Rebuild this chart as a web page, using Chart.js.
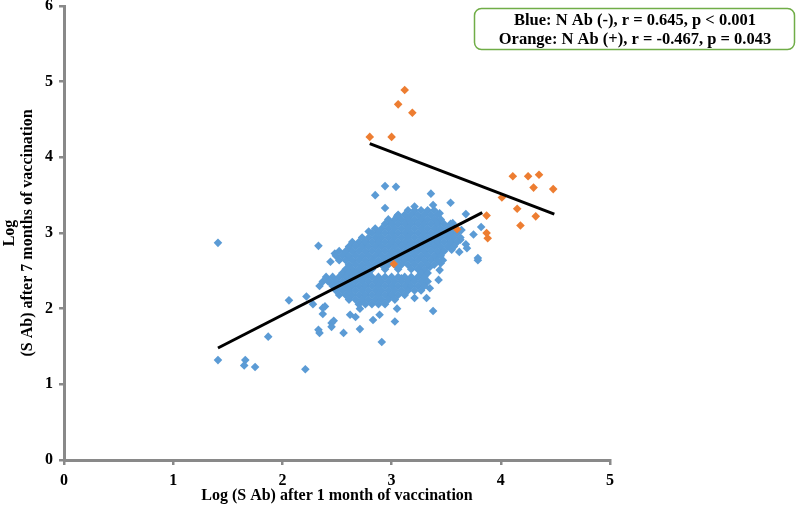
<!DOCTYPE html>
<html>
<head>
<meta charset="utf-8">
<script src="https://cdn.jsdelivr.net/npm/chart.js@4.4.1/dist/chart.umd.min.js"></script>
<style>
  html, body { margin: 0; padding: 0; background: #fff; }
</style>
</head>
<body>
<canvas id="canvas" width="797" height="513"></canvas>
<script>
// N Ab (-) points (log S Ab at 1 month, log S Ab at 7 months)
var bluePoints = [
  // scattered points
  [1.41,2.87],[1.41,1.32],[1.66,1.32],[1.65,1.25],[1.75,1.23],[1.87,1.63],[2.21,1.20],
  [2.06,2.11],[2.22,2.16],[2.28,2.06],[2.33,1.72],[2.34,1.68],[2.37,1.93],[2.37,2.01],
  [2.39,2.03],[2.45,1.81],[2.45,1.76],[2.47,1.84],[2.56,1.68],[2.62,1.92],[2.67,1.89],
  [2.71,1.73],[2.71,2.00],[2.83,1.85],[2.89,1.92],[2.91,1.56],[2.97,2.16],[3.05,2.00],
  [3.03,1.83],[3.21,2.14],[3.32,2.14],[3.38,1.97],[3.35,2.27],[3.32,2.36],[3.43,2.38],
  [3.44,2.51],[3.35,2.55],[3.20,2.38],[3.15,2.29],[3.09,2.40],[2.34,2.30],[2.42,2.36],
  [2.33,2.83],[2.48,2.73],[2.44,2.62],[2.59,2.71],[2.79,3.02],[2.85,3.50],[2.94,3.62],
  [3.04,3.61],[2.94,3.33],[3.05,3.22],[3.36,3.52],[3.54,3.40],[3.21,3.35],[3.38,3.37],
  [3.44,3.26],[3.68,3.25],[3.82,3.08],[3.75,2.98],[3.68,2.85],[3.79,2.67],[3.63,2.91],
  [3.62,2.75],[3.55,2.78],[3.46,2.75],[3.45,2.60],[3.79,2.64],[3.56,3.13],[3.64,3.04],
  [3.69,2.80],[3.47,2.64],[3.41,2.70],
  // upper cluster
  [3.15,3.30],[3.21,3.30],[3.27,3.30],[3.33,3.30],[3.39,3.30],
  [3.06,3.24],[3.12,3.24],[3.18,3.24],[3.24,3.24],[3.30,3.24],[3.36,3.24],[3.42,3.24],
  [2.97,3.18],[3.03,3.18],[3.09,3.18],[3.15,3.18],[3.21,3.18],[3.27,3.18],[3.33,3.18],[3.39,3.18],[3.45,3.18],
  [2.94,3.12],[3.00,3.12],[3.06,3.12],[3.12,3.12],[3.18,3.12],[3.24,3.12],[3.30,3.12],[3.36,3.12],[3.42,3.12],[3.48,3.12],[3.54,3.12],
  [2.85,3.06],[2.91,3.06],[2.97,3.06],[3.03,3.06],[3.09,3.06],[3.15,3.06],[3.21,3.06],[3.27,3.06],[3.33,3.06],[3.39,3.06],[3.45,3.06],[3.51,3.06],[3.57,3.06],
  [2.82,3.00],[2.88,3.00],[2.94,3.00],[3.00,3.00],[3.06,3.00],[3.12,3.00],[3.18,3.00],[3.24,3.00],[3.30,3.00],[3.36,3.00],[3.42,3.00],[3.48,3.00],[3.54,3.00],[3.60,3.00],
  [2.73,2.94],[2.79,2.94],[2.85,2.94],[2.91,2.94],[2.97,2.94],[3.03,2.94],[3.09,2.94],[3.15,2.94],[3.21,2.94],[3.27,2.94],[3.33,2.94],[3.39,2.94],[3.45,2.94],[3.51,2.94],[3.57,2.94],[3.63,2.94],
  [2.64,2.88],[2.70,2.88],[2.76,2.88],[2.82,2.88],[2.88,2.88],[2.94,2.88],[3.00,2.88],[3.06,2.88],[3.12,2.88],[3.18,2.88],[3.24,2.88],[3.30,2.88],[3.36,2.88],[3.42,2.88],[3.48,2.88],[3.54,2.88],[3.60,2.88],
  [2.61,2.82],[2.67,2.82],[2.73,2.82],[2.79,2.82],[2.85,2.82],[2.91,2.82],[2.97,2.82],[3.03,2.82],[3.09,2.82],[3.15,2.82],[3.21,2.82],[3.27,2.82],[3.33,2.82],[3.39,2.82],[3.45,2.82],[3.51,2.82],[3.57,2.82],
  [2.52,2.76],[2.58,2.76],[2.64,2.76],[2.70,2.76],[2.76,2.76],[2.82,2.76],[2.88,2.76],[2.94,2.76],[3.00,2.76],[3.06,2.76],[3.12,2.76],[3.18,2.76],[3.24,2.76],[3.30,2.76],[3.36,2.76],[3.42,2.76],[3.48,2.76],
  [2.49,2.70],[2.55,2.70],[2.61,2.70],[2.67,2.70],[2.73,2.70],[2.79,2.70],[2.85,2.70],[2.91,2.70],[2.97,2.70],[3.03,2.70],[3.09,2.70],[3.15,2.70],[3.21,2.70],[3.27,2.70],[3.33,2.70],[3.39,2.70],[3.45,2.70],
  [2.52,2.64],[2.58,2.64],[2.64,2.64],[2.70,2.64],[2.76,2.64],[2.82,2.64],[2.88,2.64],[2.94,2.64],[3.00,2.64],[3.06,2.64],[3.12,2.64],[3.18,2.64],[3.24,2.64],[3.30,2.64],[3.36,2.64],[3.42,2.64],
  [2.61,2.58],[2.67,2.58],[2.73,2.58],[2.79,2.58],[2.85,2.58],[2.91,2.58],[2.97,2.58],[3.03,2.58],[3.09,2.58],[3.15,2.58],[3.21,2.58],[3.27,2.58],[3.33,2.58],[3.39,2.58],
  [2.58,2.52],[2.64,2.52],[2.70,2.52],[2.76,2.52],[2.82,2.52],[2.94,2.52],[3.06,2.52],[3.18,2.52],[3.24,2.52],[3.30,2.52],
  [2.55,2.47],[2.61,2.47],[2.67,2.47],[2.73,2.47],[2.79,2.47],[3.27,2.47],[3.33,2.47],
  // lower cluster
  [2.40,2.42],[2.46,2.42],[2.52,2.42],[2.58,2.42],[2.64,2.42],[2.70,2.42],[2.76,2.42],[2.82,2.42],[2.88,2.42],[2.94,2.42],[3.00,2.42],[3.06,2.42],[3.12,2.42],[3.18,2.42],[3.24,2.42],[3.30,2.42],
  [2.37,2.36],[2.43,2.36],[2.49,2.36],[2.55,2.36],[2.61,2.36],[2.67,2.36],[2.73,2.36],[2.79,2.36],[2.85,2.36],[2.91,2.36],[2.97,2.36],[3.03,2.36],[3.09,2.36],[3.15,2.36],[3.21,2.36],[3.27,2.36],[3.33,2.36],
  [2.46,2.30],[2.52,2.30],[2.58,2.30],[2.64,2.30],[2.70,2.30],[2.76,2.30],[2.82,2.30],[2.88,2.30],[2.94,2.30],[3.00,2.30],[3.06,2.30],[3.12,2.30],[3.18,2.30],[3.24,2.30],[3.30,2.30],
  [2.49,2.24],[2.55,2.24],[2.61,2.24],[2.67,2.24],[2.73,2.24],[2.79,2.24],[2.85,2.24],[2.91,2.24],[2.97,2.24],[3.03,2.24],[3.09,2.24],[3.15,2.24],[3.21,2.24],[3.27,2.24],
  [2.52,2.18],[2.58,2.18],[2.64,2.18],[2.70,2.18],[2.76,2.18],[2.82,2.18],[2.88,2.18],[2.94,2.18],[3.00,2.18],[3.06,2.18],[3.12,2.18],
  [2.61,2.12],[2.67,2.12],[2.73,2.12],[2.79,2.12],[2.85,2.12],[2.91,2.12],[2.97,2.12],[3.03,2.12],
  [2.70,2.06],[2.76,2.06],[2.82,2.06],[2.88,2.06],[2.94,2.06]
];

// N Ab (+) points
var orangePoints = [
  [2.80,4.27],[3.00,4.27],[3.06,4.70],[3.12,4.89],[3.19,4.59],[4.11,3.75],[4.25,3.75],
  [4.35,3.77],[4.30,3.60],[4.48,3.58],[4.01,3.47],[4.15,3.32],[4.32,3.22],[4.18,3.10],
  [3.87,3.23],[3.87,3.00],[3.88,2.93],[3.60,3.05],[3.02,2.59]
];

// fitted lines, start and end points
var blueFit = [[1.41,1.48],[3.83,3.27]];
var orangeFit = [[2.80,4.18],[4.49,3.25]];

var xTicks = [0, 1, 2, 3, 4, 5];
var yTicks = [0, 1, 2, 3, 4, 5, 6];

var noteLines = [
  'Blue: N Ab (-), r = 0.645, p < 0.001',
  'Orange: N Ab (+), r = -0.467, p = 0.043'
];

function toXY(list) {
  return list.map(function(p) { return { x: p[0], y: p[1] }; });
}

var serif = '"Liberation Serif", "Times New Roman", serif';
var axisGrey = '#898989';

// boxed note with the correlation results
var noteBox = {
  id: 'noteBox',
  afterDraw: function(chart) {
    var ctx = chart.ctx;
    ctx.save();
    ctx.beginPath();
    ctx.roundRect(474.5, 8.5, 320, 41, 7);
    ctx.fillStyle = '#fff';
    ctx.fill();
    ctx.strokeStyle = '#70AD47';
    ctx.lineWidth = 1.5;
    ctx.stroke();
    ctx.fillStyle = '#000';
    ctx.font = 'bold 16.5px ' + serif;
    ctx.textAlign = 'center';
    ctx.textBaseline = 'middle';
    noteLines.forEach(function(t, i) {
      ctx.fillText(t, 635, 21 + i * 19);
    });
    ctx.restore();
  }
};

var ctx = document.getElementById('canvas').getContext('2d');
var chart = new Chart(ctx, {
  type: 'scatter',
  data: {
    datasets: [{
      label: 'Blue fit',
      data: toXY(blueFit),
      showLine: true,
      borderColor: '#000',
      borderWidth: 3,
      pointRadius: 0,
      order: 0
    }, {
      label: 'Orange fit',
      data: toXY(orangeFit),
      showLine: true,
      borderColor: '#000',
      borderWidth: 3,
      pointRadius: 0,
      order: 0
    }, {
      label: 'N Ab (+)',
      data: toXY(orangePoints),
      backgroundColor: '#ED7D31',
      borderWidth: 0,
      pointStyle: 'rectRot',
      pointRadius: 4.3,
      order: 1
    }, {
      label: 'N Ab (-)',
      data: toXY(bluePoints),
      backgroundColor: '#5B9BD5',
      borderWidth: 0,
      pointStyle: 'rectRot',
      pointRadius: 4.3,
      order: 2
    }]
  },
  options: {
    responsive: false,
    animation: false,
    layout: { padding: { top: 0, right: 187, left: 0, bottom: 0 } },
    plugins: {
      legend: { display: false },
      tooltip: { enabled: false }
    },
    scales: {
      x: {
        type: 'linear',
        min: xTicks[0],
        max: xTicks[xTicks.length - 1],
        afterBuildTicks: function(s) { s.ticks = xTicks.map(function(v) { return { value: v }; }); },
        afterFit: function(s) { s.height = 53; },
        grid: { drawOnChartArea: false, drawTicks: true, tickLength: 5, color: axisGrey, lineWidth: 2.5 },
        border: { color: axisGrey, width: 3 },
        ticks: { color: '#000', padding: 6, font: { family: serif, size: 16, weight: 'bold' } },
        title: {
          display: true,
          text: 'Log (S Ab) after 1 month of vaccination',
          color: '#000',
          padding: { top: 0, bottom: 8 },
          font: { family: serif, size: 16, weight: 'bold' }
        }
      },
      y: {
        type: 'linear',
        min: yTicks[0],
        max: yTicks[yTicks.length - 1],
        afterBuildTicks: function(s) { s.ticks = yTicks.map(function(v) { return { value: v }; }); },
        afterFit: function(s) { s.width = 64; s.paddingTop = 6; },
        grid: { drawOnChartArea: false, drawTicks: true, tickLength: 5, color: axisGrey, lineWidth: 2.5 },
        border: { color: axisGrey, width: 3 },
        ticks: { color: '#000', padding: 6, font: { family: serif, size: 16, weight: 'bold' } },
        title: {
          display: true,
          text: ['Log', '(S Ab) after 7 months of vaccination'],
          color: '#000',
          padding: { top: 1, bottom: 0 },
          font: { family: serif, size: 16, weight: 'bold', lineHeight: 1.1 }
        }
      }
    }
  },
  plugins: [noteBox]
});
</script>
</body>
</html>
